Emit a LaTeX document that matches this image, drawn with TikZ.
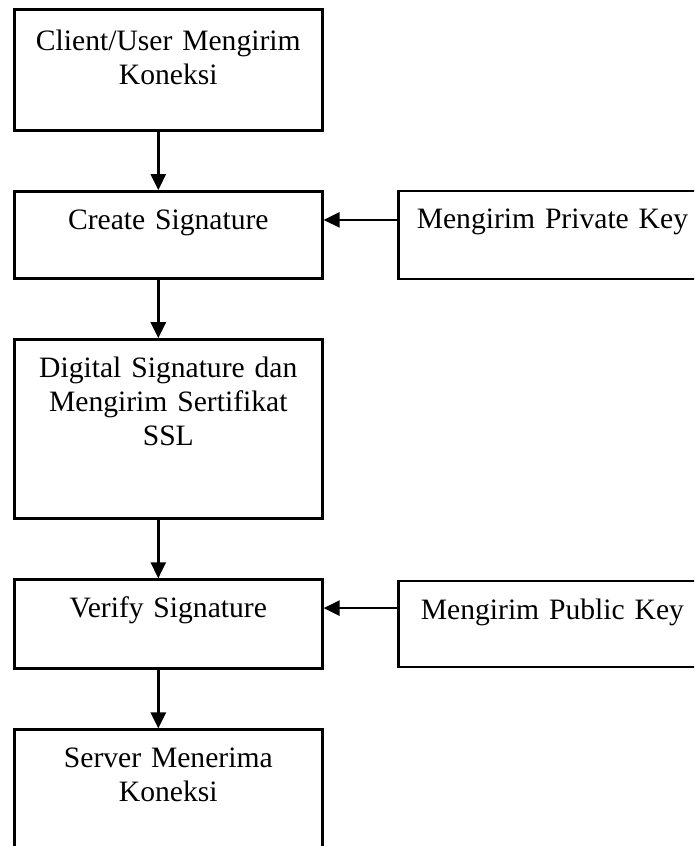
\documentclass[tikz,border=0pt]{standalone}
\usepackage{fontspec}
\setmainfont{Liberation Serif}
\usetikzlibrary{positioning, arrows.meta}

\begin{document}
\begin{tikzpicture}[
     x=1pt, y=1pt,
     node distance=58.5pt,
     process/.style={draw, line width=2.6pt, text width=308pt, inner xsep=0pt, inner ysep=0pt,
        align=center, text height=38pt, font=\fontsize{29.6}{34}\selectfont},
     flow/.style={-{Triangle[width=15pt,length=16pt]}, line width=2.6pt}
  ]
  \useasboundingbox (0,-846) rectangle (694,0);
  \clip (0,-846) rectangle (694,0);

  % Nodes for the main flow
  \node[process, anchor=north west, text height=41pt, text depth=80pt] (client) at (13,-8) {Client/User Mengirim\\Koneksi};
  \node[process, text depth=49pt] (create) [below=of client] {Create Signature};
  \node[process, text depth=141pt] (digital) [below=of create] {Digital Signature dan\\Mengirim Sertifikat\\SSL};
  \node[process, text depth=51pt] (verify) [below=of digital] {Verify Signature};
  \node[process, text depth=120pt] (server) [below=of verify] {Server Menerima\\Koneksi};

  % Nodes for the keys
  \node[process, text depth=50pt] (private) [right=73.5pt of create] {Mengirim Private Key};
  \node[process, text depth=48pt] (public) [right=73.5pt of verify] {Mengirim Public Key};

  % Arrows down the flow
  \draw[flow] ([xshift=-10pt]client.south) -- ([xshift=-10pt]create.north);
  \draw[flow] ([xshift=-10pt]create.south) -- ([xshift=-10pt]digital.north);
  \draw[flow] ([xshift=-10pt]digital.south) -- ([xshift=-10pt]verify.north);
  \draw[flow] ([xshift=-10pt]verify.south) -- ([xshift=-10pt]server.north);

  % Arrows from the keys
  \draw[flow] ([yshift=15pt]private.west) -- ([yshift=15pt]private.west -| create.east);
  \draw[flow] ([yshift=16pt]public.west) -- ([yshift=16pt]public.west -| verify.east);
\end{tikzpicture}
\end{document}
